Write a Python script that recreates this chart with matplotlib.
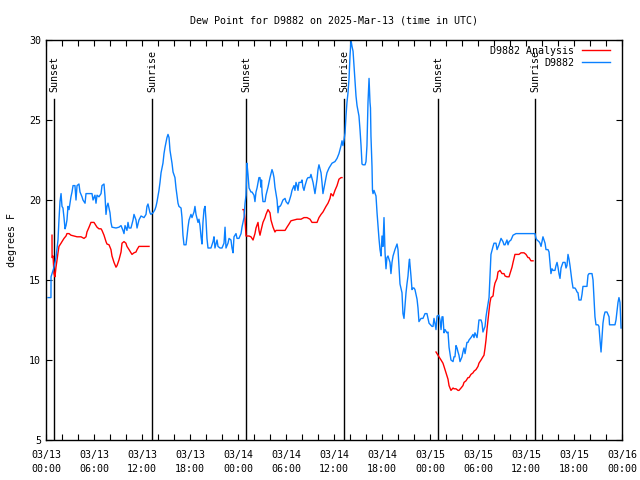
import numpy as np
import matplotlib
matplotlib.use("Agg")
import matplotlib.pyplot as plt

# hours since 03/13 00:00 UTC, dew point in deg F
blue_t = [0.25, 0.62, 0.63, 1.0, 1.25, 1.38, 1.5, 1.62, 1.75, 1.88, 2.0, 2.12, 2.25, 2.38, 2.5, 2.62,
          2.75, 2.88, 3.12, 3.25, 3.38, 3.62, 3.75, 3.88, 4.12, 4.25, 4.5, 4.62, 4.88, 5.0, 5.5, 5.75,
          5.88, 6.12, 6.25, 6.38, 6.62, 6.88, 7.0, 7.25, 7.38, 7.5, 7.62, 7.75, 8.0, 8.12, 8.25, 8.75,
          9.12, 9.38, 9.62, 9.75, 9.88, 10.12, 10.25, 10.38, 10.62, 10.88, 11.0, 11.25, 11.38, 11.62,
          11.88, 12.25, 12.5, 12.62, 12.75, 13.0, 13.12, 13.38, 13.62, 13.75, 13.88, 14.12, 14.25,
          14.38, 14.62, 14.75, 14.88, 15.12, 15.25, 15.38, 15.5, 15.75, 15.88, 16.12, 16.25, 16.5,
          16.62, 16.88, 17.0, 17.12, 17.25, 17.5, 17.62, 17.75, 17.88, 18.12, 18.25, 18.5, 18.62,
          18.75, 19.0, 19.12, 19.25, 19.38, 19.5, 19.62, 19.75, 19.88, 20.0, 20.12, 20.25, 20.62,
          20.88, 21.0, 21.12, 21.38, 21.5, 21.75, 22.0, 22.25, 22.38, 22.5, 22.75, 22.88, 23.12,
          23.25, 23.38, 23.5, 23.75, 23.88, 24.12, 24.38, 24.5, 24.75, 24.88, 25.0, 25.12, 25.25,
          25.38, 25.62, 25.75, 26.0, 26.12, 26.25, 26.38, 26.62, 26.75, 26.88, 26.94, 27.0, 27.12,
          27.38, 27.5, 27.75, 28.0, 28.25, 28.38, 28.5, 28.62, 28.88, 29.0, 29.12, 29.25, 29.38,
          29.62, 29.88, 30.0, 30.25, 30.38, 30.62, 30.75, 31.0, 31.12, 31.25, 31.38, 31.5, 31.62,
          31.88, 32.0, 32.12, 32.25, 32.38, 32.62, 32.75, 33.0, 33.12, 33.38, 33.5, 33.62, 33.88,
          34.0, 34.12, 34.38, 34.5, 34.62, 34.88, 35.0, 35.12, 35.38, 35.62, 35.75, 36.12, 36.38,
          36.62, 36.88, 37.0, 37.12, 37.25, 37.38, 37.5, 37.62, 37.75, 37.88, 38.0, 38.12, 38.25,
          38.38, 38.5, 38.62, 38.75, 38.88, 39.12, 39.25, 39.38, 39.5, 39.62, 39.88, 40.0, 40.12,
          40.25, 40.38, 40.5, 40.56, 40.62, 40.75, 40.81, 40.88, 41.0, 41.25, 41.38, 41.5, 41.62,
          41.75, 41.88, 42.0, 42.12, 42.25, 42.38, 42.5, 42.62, 42.75, 43.0, 43.12, 43.25, 43.38,
          43.62, 43.88, 44.0, 44.12, 44.25, 44.5, 44.62, 44.75, 44.88, 45.0, 45.12, 45.25, 45.38,
          45.44, 45.62, 45.75, 45.88, 46.0, 46.12, 46.38, 46.5, 46.62, 46.88, 47.12, 47.38, 47.62,
          47.88, 48.25, 48.38, 48.5, 48.62, 48.75, 48.88, 49.12, 49.25, 49.38, 49.5, 49.62, 49.75,
          49.88, 50.12, 50.25, 50.38, 50.62, 50.88, 51.0, 51.12, 51.25, 51.38, 51.5, 51.62, 51.75,
          52.0, 52.12, 52.25, 52.38, 52.62, 52.75, 52.88, 53.12, 53.38, 53.5, 53.62, 53.88, 54.0,
          54.12, 54.38, 54.5, 54.62, 54.88, 55.0, 55.12, 55.38, 55.5, 55.62, 55.88, 56.0, 56.25,
          56.38, 56.62, 56.75, 56.88, 57.12, 57.25, 57.38, 57.62, 57.75, 57.88, 58.12, 58.38, 58.75,
          61.12, 61.25, 61.38, 61.62, 61.75, 61.88, 62.0, 62.12, 62.38, 62.5, 62.75, 62.88, 63.0,
          63.12, 63.25, 63.38, 63.62, 63.75, 63.88, 64.0, 64.12, 64.25, 64.38, 64.62, 64.75, 64.88,
          65.0, 65.12, 65.25, 65.38, 65.5, 65.62, 65.75, 65.88, 66.12, 66.25, 66.38, 66.5, 66.62,
          66.88, 67.0, 67.12, 67.38, 67.62, 67.75, 67.88, 68.12, 68.25, 68.38, 68.5, 68.62, 68.75,
          69.0, 69.12, 69.25, 69.38, 69.5, 69.62, 69.75, 69.88, 70.12, 70.38, 70.44, 70.75, 71.12,
          71.25, 71.38, 71.5, 71.62, 71.75, 71.88]
blue_v = [13.9, 13.9, 15.2, 15.8, 16.4, 17.0, 17.5, 18.75, 19.9, 20.4, 19.6, 19.5, 18.9, 18.2, 18.4, 18.75,
          19.6, 19.4, 20.2, 20.5, 20.9, 20.9, 20.0, 20.9, 21.0, 20.5, 20.2, 20.0, 19.8, 20.4, 20.4, 20.4,
          20.0, 20.3, 19.8, 20.3, 20.2, 20.4, 20.9, 21.0, 20.2, 19.1, 19.6, 19.8, 19.2, 18.6, 18.3, 18.25,
          18.3, 18.4, 18.1, 17.9, 18.4, 18.1, 18.6, 18.25, 18.25, 18.75, 19.1, 18.75, 18.25, 18.75,
          19.0, 18.9, 19.1, 19.6, 19.75, 19.2, 19.1, 19.2, 19.4, 19.6, 19.9, 20.6, 21.1,
          21.7, 22.3, 22.9, 23.3, 23.9, 24.1, 23.9, 23.1, 22.3, 21.75, 21.4, 20.75, 19.8,
          19.6, 19.5, 18.9, 17.8, 17.2, 17.2, 17.7, 18.3, 18.75, 19.1, 18.9, 19.25, 19.6,
          19.1, 18.6, 18.8, 18.4, 17.7, 17.25, 18.6, 19.4, 19.6, 18.75, 17.6, 17.0, 17.0,
          17.4, 17.7, 17.0, 17.5, 17.1, 17.0, 17.0, 17.3, 18.3, 17.0, 17.3, 17.6, 17.5,
          17.0, 16.7, 17.7, 17.9, 17.6, 17.6, 17.9, 18.3, 18.9, 19.8, 20.3, 22.3, 21.6,
          20.75, 20.5, 20.5, 20.3, 19.9, 20.5, 20.75, 21.4, 21.4, 20.8, 21.25, 20.5, 19.9,
          19.9, 20.3, 20.8, 21.4, 21.9, 21.7, 21.4, 20.8, 20.0, 19.2, 19.6, 19.6, 19.7,
          20.0, 20.1, 19.9, 19.75, 19.9, 20.3, 20.6, 20.9, 20.6, 21.1, 20.9, 20.6, 21.1,
          21.1, 21.25, 20.8, 20.6, 20.9, 21.3, 21.4, 21.4, 21.6, 21.1, 20.75, 20.4, 21.3,
          21.9, 22.2, 21.7, 21.1, 20.4, 21.1, 21.4, 21.7, 22.0, 22.2, 22.3, 22.4, 22.6,
          22.9, 23.4, 23.7, 23.4, 23.75, 24.2, 25.25, 26.1, 26.7, 27.6, 29.0, 30.0, 29.6,
          29.3, 28.4, 27.6, 26.5, 25.9, 25.25, 24.4, 23.4, 22.25, 22.2, 22.2, 22.4, 23.4,
          26.1, 27.6, 26.1, 25.75, 24.0, 22.1, 20.6, 20.4, 20.6, 20.25, 19.2, 18.4, 17.6,
          16.9, 16.5, 17.75, 17.1, 18.9, 16.7, 15.7, 16.4, 16.5, 16.1, 15.4, 16.1, 16.5,
          16.9, 17.25, 16.9, 15.9, 14.75, 14.2, 12.9, 12.6, 13.4, 14.2, 14.75, 15.25, 16.1,
          16.3, 15.25, 14.4, 14.5, 14.5, 14.4, 13.8, 13.25, 12.4, 12.6, 12.6, 12.9, 12.9,
          12.3, 12.1, 12.1, 12.6, 12.3, 11.9, 12.75, 12.8, 12.5, 11.9, 12.7, 12.7, 11.7,
          11.9, 11.7, 11.75, 10.8, 10.0, 9.9, 10.2, 10.2, 10.9, 10.75, 10.5, 10.3, 9.9,
          10.2, 10.5, 10.75, 10.4, 11.1, 11.1, 11.25, 11.4, 11.6, 11.4, 11.7, 11.4, 11.9,
          12.5, 12.5, 12.3, 11.75, 12.1, 12.7, 13.1, 13.9, 15.25, 16.6, 17.1, 17.3, 17.3,
          16.9, 17.2, 17.4, 17.6, 17.4, 17.2, 17.2, 17.5, 17.2, 17.4, 17.5, 17.8, 17.9,
          17.9, 17.6, 17.5, 17.4, 17.3, 17.1, 17.4, 17.7, 17.3, 16.9, 16.9, 16.75, 16.1,
          15.4, 15.7, 15.6, 15.6, 15.9, 16.1, 15.8, 15.4, 15.1, 15.75, 16.1, 16.1, 16.1,
          15.75, 15.9, 16.6, 16.3, 15.9, 15.4, 14.9, 14.5, 14.5, 14.4, 14.25, 14.2, 13.75,
          13.75, 14.1, 14.6, 14.6, 14.6, 15.3, 15.4, 15.4, 15.4, 15.0, 13.9, 12.7, 12.2,
          12.2, 12.1, 11.25, 10.5, 11.4, 12.3, 12.75, 13.0, 13.0, 12.7, 12.2, 12.2, 12.2,
          12.5, 13.1, 13.6, 13.9, 13.6, 12.0]

# analysis series comes in three pieces
red_t1 = [0.75, 0.76, 0.88, 1.0, 1.12, 1.25, 1.38, 1.5, 1.62, 1.88, 2.0, 2.25, 2.5, 2.62, 2.88, 3.12,
          3.5, 3.88, 4.38, 4.75, 5.0, 5.12, 5.38, 5.62, 5.75, 6.0, 6.25, 6.38, 6.62, 6.88, 7.0, 7.25,
          7.5, 7.62, 7.88, 8.12, 8.25, 8.5, 8.75, 8.88, 9.12, 9.38, 9.5, 9.75, 9.99, 10.12, 10.38,
          10.62, 10.75, 11.0, 11.25, 11.38, 11.62, 11.88, 12.25, 12.62, 12.88]
red_v1 = [17.8, 16.4, 16.5, 15.4, 15.2, 15.8, 16.25, 16.7, 17.1, 17.3, 17.4, 17.6, 17.75, 17.9, 17.9, 17.8,
          17.75, 17.7, 17.7, 17.6, 17.7, 18.0, 18.3, 18.6, 18.6, 18.6, 18.4, 18.3, 18.2, 18.2, 18.1, 17.8,
          17.4, 17.25, 17.2, 16.9, 16.5, 16.1, 15.8, 15.9, 16.25, 16.75, 17.3, 17.4, 17.3, 17.1, 16.9,
          16.7, 16.6, 16.7, 16.75, 16.9, 17.1, 17.1, 17.1, 17.1, 17.1]
red_t2 = [24.62, 24.75, 24.88, 25.0, 25.38, 25.62, 25.88, 26.12, 26.25, 26.5, 26.62, 26.75, 26.88,
          27.12, 27.38, 27.5, 27.75, 28.0, 28.12, 28.38, 28.62, 28.75, 29.0, 29.38, 29.62, 29.88,
          30.12, 30.38, 30.62, 31.0, 31.38, 31.88, 32.25, 32.62, 33.0, 33.25, 33.62, 33.88, 34.12,
          34.38, 34.62, 35.0, 35.25, 35.5, 35.62, 35.88, 36.12, 36.38, 36.62, 36.88, 37.0]
red_v2 = [19.4, 19.4, 18.75, 17.75, 17.75, 17.7, 17.5, 17.9, 18.25, 18.6, 18.1, 17.8, 18.1,
          18.6, 18.9, 19.1, 19.4, 19.2, 18.75, 18.3, 18.0, 18.1, 18.1, 18.1, 18.1, 18.1,
          18.3, 18.5, 18.7, 18.75, 18.8, 18.8, 18.9, 18.9, 18.8, 18.6, 18.6, 18.6, 18.9,
          19.1, 19.25, 19.6, 19.8, 20.1, 20.4, 20.25, 20.6, 20.9, 21.3, 21.4, 21.4]
red_t3 = [48.75, 49.0, 49.12, 49.38, 49.62, 49.75, 50.0, 50.25, 50.38, 50.62, 50.88, 51.0, 51.25,
          51.5, 51.62, 51.88, 52.12, 52.25, 52.5, 52.75, 52.88, 53.12, 53.38, 53.5, 53.75, 54.0,
          54.12, 54.38, 54.62, 54.75, 54.88, 55.0, 55.12, 55.25, 55.38, 55.5, 55.62, 55.88, 56.0,
          56.12, 56.38, 56.5, 56.75, 57.0, 57.25, 57.38, 57.62, 57.88, 58.0, 58.25, 58.38, 58.62,
          58.75, 59.0, 59.12, 59.38, 59.62, 59.75, 60.0, 60.25, 60.38, 60.62, 60.88]
red_v3 = [10.5, 10.3, 10.2, 10.0, 9.8, 9.6, 9.2, 8.8, 8.4, 8.1, 8.25, 8.2, 8.2,
          8.1, 8.1, 8.25, 8.4, 8.6, 8.7, 8.9, 8.9, 9.1, 9.2, 9.3, 9.4, 9.6,
          9.8, 10.0, 10.2, 10.3, 10.75, 11.25, 11.9, 12.5, 13.1, 13.6, 13.9, 14.0, 14.5,
          14.8, 15.1, 15.5, 15.6, 15.4, 15.4, 15.25, 15.2, 15.2, 15.4, 15.8, 16.1, 16.6,
          16.6, 16.6, 16.6, 16.7, 16.7, 16.7, 16.6, 16.4, 16.4, 16.2, 16.2]

sun_hours = [1.03, 13.28, 25.0, 37.3, 49.04, 61.17]
sun_labels = ["Sunset", "Sunrise", "Sunset", "Sunrise", "Sunset", "Sunrise"]

tick_hours = list(range(0, 73, 6))
tick_labels = ["03/13\n00:00", "03/13\n06:00", "03/13\n12:00", "03/13\n18:00",
               "03/14\n00:00", "03/14\n06:00", "03/14\n12:00", "03/14\n18:00",
               "03/15\n00:00", "03/15\n06:00", "03/15\n12:00", "03/15\n18:00",
               "03/16\n00:00"]

BLUE = "#0a80ff"
FS = 7.2
plt.rcParams["font.family"] = ["DejaVu Sans Mono"]

fig = plt.figure(figsize=(6.4, 4.8), dpi=100)
ax = fig.add_axes([46 / 640, 40 / 480, 576 / 640, 400 / 480])

for h, lab in zip(sun_hours, sun_labels):
    ax.plot([h, h], [5, 26.3], color="black", lw=1)
    ax.text(h, 26.75, lab, rotation=90, ha="center", va="bottom", fontsize=FS)

ax.plot(red_t1, red_v1, color="#ff0000", lw=1, label="D9882 Analysis")
ax.plot(red_t2, red_v2, color="#ff0000", lw=1)
ax.plot(red_t3, red_v3, color="#ff0000", lw=1)
ax.plot(blue_t, blue_v, color=BLUE, lw=1, label="D9882")

ax.set_xlim(0, 72)
ax.set_ylim(5, 30)
ax.set_xticks(tick_hours)
ax.set_xticklabels(tick_labels, fontsize=FS, linespacing=1.55)
ax.set_xticks(np.arange(0, 73, 2), minor=True)
ax.set_yticks([5, 10, 15, 20, 25, 30])
ax.tick_params(axis="y", labelsize=FS)
ax.tick_params(which="both", direction="in", top=True, right=True, length=4, width=0.8)
ax.tick_params(axis="x", pad=7)
for s in ax.spines.values():
    s.set_linewidth(1)

ax.set_ylabel("degrees F", fontsize=FS, labelpad=9)
ax.set_title("Dew Point for D9882 on 2025-Mar-13 (time in UTC)", fontsize=FS, pad=12)

ax.legend(loc="upper right", frameon=False, markerfirst=False, fontsize=FS,
          handlelength=2.8, handletextpad=0.8, labelspacing=0.2,
          borderaxespad=0.2, bbox_to_anchor=(0.9896, 1.0))

fig.savefig("out.png", dpi=100)
plt.close(fig)
